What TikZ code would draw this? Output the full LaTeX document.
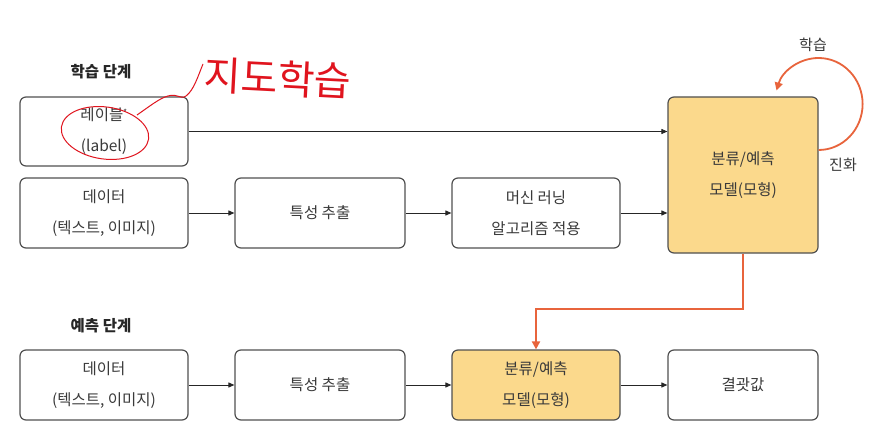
\documentclass[tikz,border=0pt]{standalone}
\usepackage{fontspec}
\setmainfont{Noto Sans CJK KR}
\newfontfamily\kr{Noto Sans CJK KR}
\usetikzlibrary{arrows.meta,calc}
\definecolor{boxline}{HTML}{505050}
\definecolor{txt}{HTML}{3A3A3A}
\definecolor{modelfill}{HTML}{FBD98C}
\definecolor{orng}{HTML}{E8643C}
\definecolor{pen}{HTML}{E0141E}
\begin{document}
\begin{tikzpicture}[x=1pt,y=-1pt,
  stepbox/.style={draw=boxline,line width=1.2pt,rounded corners=6pt,fill=white,
    text=txt,align=center,font=\fontsize{15.5}{31}\selectfont,inner sep=0pt},
  modelbox/.style={stepbox,fill=modelfill},
  conn/.style={draw=black!85,line width=0.9pt,-{Triangle[length=6pt,width=5pt]}},
  oconn/.style={draw=orng,line width=1.8pt,-{Triangle[length=8pt,width=8pt]}},
  ttl/.style={text=black!85,font=\bfseries\fontsize{15.5}{18}\selectfont,inner sep=0pt},
  side/.style={text=txt,font=\fontsize{15}{18}\selectfont,inner sep=0pt}]
\useasboundingbox (0,0) rectangle (869,438);
\fill[white] (0,0) rectangle (869,438);

% titles
\node[ttl] (t1) at (101,72) {학습 단계};
\node[ttl] (t2) at (101,326) {예측 단계};

% learning row
\node[stepbox,minimum width=168pt,minimum height=69pt] (lab) at (104,131.5) {레이블\textsuperscript{\fontsize{8}{8}\selectfont *}\\(label)};
\node[stepbox,minimum width=168pt,minimum height=70pt] (d1) at (104,213) {데이터\\(텍스트, 이미지)};
\node[stepbox,minimum width=170pt,minimum height=70pt] (f1) at (320,213) {특성 추출};
\node[stepbox,minimum width=168pt,minimum height=70pt] (ml) at (536,213) {머신 러닝\\알고리즘 적용};
\node[modelbox,minimum width=150pt,minimum height=156pt] (m1) at (743,175) {분류/예측\\모델(모형)};

% prediction row
\node[stepbox,minimum width=168pt,minimum height=70pt] (d2) at (104,385) {데이터\\(텍스트, 이미지)};
\node[stepbox,minimum width=170pt,minimum height=70pt] (f2) at (320,385) {특성 추출};
\node[modelbox,minimum width=168pt,minimum height=70pt] (m2) at (536,385) {분류/예측\\모델(모형)};
\node[stepbox,minimum width=150pt,minimum height=70pt] (r2) at (743,385) {결괏값};

% connectors
\draw[conn] (lab.east) -- (lab.east -| m1.west);
\draw[conn] (d1) -- (f1);
\draw[conn] (f1) -- (ml);
\draw[conn] (ml.east) -- (ml.east -| m1.west);
\draw[conn] (d2) -- (f2);
\draw[conn] (f2) -- (m2);
\draw[conn] (m2) -- (r2);

\coordinate (b1) at ($(m1.south)+(0,55)$);
\draw[oconn] (m1.south) -- (b1) -| (m2.north);

% self loop
\coordinate (lpS) at (m1.east |- 0,150);
\draw[orng,line width=1.8pt,-{Triangle[length=8pt,width=8pt]}]
  (lpS) arc[start angle=90,end angle=-163,x radius=44,y radius=46];
\node[side] (lrn) at (813,45) {학습};
\node[side] (evo) at (843,165) {진화};

% handwritten annotation
\node[text=pen,font=\fontsize{40}{44}\selectfont,inner sep=0pt,rotate=-3] (hw) at (278,78) {지도학습};
\draw[pen,line width=1pt,rotate around={-8:(105,133)}] (105,133) ellipse[x radius=44pt,y radius=26pt];
\coordinate (hw0) at (137,115);
\draw[pen,line width=1pt] (hw0) .. controls (150,106) and (160,98) .. (168,96)
  .. controls (178,93) and (180,100) .. (186,96) .. controls (194,90) and (198,76) .. (203,64);
\end{tikzpicture}
\end{document}
